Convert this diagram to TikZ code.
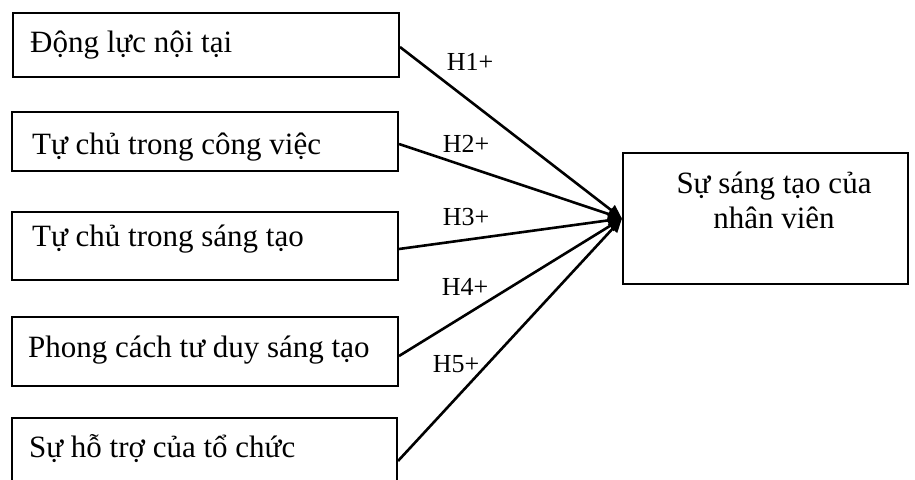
\documentclass[tikz,border=0pt]{standalone}
\usepackage{fontspec}
\setmainfont{Liberation Serif}
\usetikzlibrary{arrows.meta,calc}
\begin{document}
\begin{tikzpicture}[x=1pt,y=-1pt,
  boxn/.style={draw,line width=2pt,inner sep=0pt,minimum width=#1},
  boxtext/.style={anchor=base west,inner sep=0pt,font=\fontsize{31}{35}\selectfont},
  hyp/.style={inner sep=0pt,font=\fontsize{26}{30}\selectfont},
  conn/.style={line width=2.6pt,-{Triangle[length=14pt,width=12pt]}}]
\useasboundingbox (0,0) rectangle (915,479);
\clip (0,0) rectangle (915,479);
% predictor boxes
\node[boxn=386pt,minimum height=64pt] (b1) at (206,45) {};
\node[boxn=386pt,minimum height=59pt] (b2) at (205,141.5) {};
\node[boxn=386pt,minimum height=68pt] (b3) at (205,246) {};
\node[boxn=386pt,minimum height=69pt] (b4) at (205,351.5) {};
\node[boxn=385pt,minimum height=86pt] (b5) at (204.5,461) {};
\node[boxtext] (b1t) at (30,52) {Động lực nội tại};
\node[boxtext] (b2t) at (32,154) {Tự chủ trong công việc};
\node[boxtext] (b3t) at (32,246) {Tự chủ trong sáng tạo};
\node[boxtext] (b4t) at (28,357) {Phong cách tư duy sáng tạo};
\node[boxtext] (b5t) at (29,457) {Sự hỗ trợ của tổ chức};
% target box
\node[boxn=285pt,minimum height=131pt] (t) at (765.5,218.5) {};
\node[align=center,anchor=base,inner sep=0pt,font=\fontsize{31}{35}\selectfont] (tt) at (774,228) {Sự sáng tạo của\\nhân viên};
% connectors
\coordinate (s1) at ($(b1.east)+(0,2)$);
\coordinate (s2) at ($(b2.east)+(0,2.5)$);
\coordinate (s3) at ($(b3.east)+(0,3)$);
\coordinate (s4) at ($(b4.east)+(0,4.5)$);
\coordinate (s5) at (b5.east);
\foreach \s in {s1,s2,s3,s4,s5}
  \draw[conn] (\s) -- (t.west);
% labels
\node[hyp] (h1) at (470,62) {H1+};
\node[hyp] (h2) at (466,144) {H2+};
\node[hyp] (h3) at (466,217) {H3+};
\node[hyp] (h4) at (465,287) {H4+};
\node[hyp] (h5) at (456,364) {H5+};
\end{tikzpicture}
\end{document}
